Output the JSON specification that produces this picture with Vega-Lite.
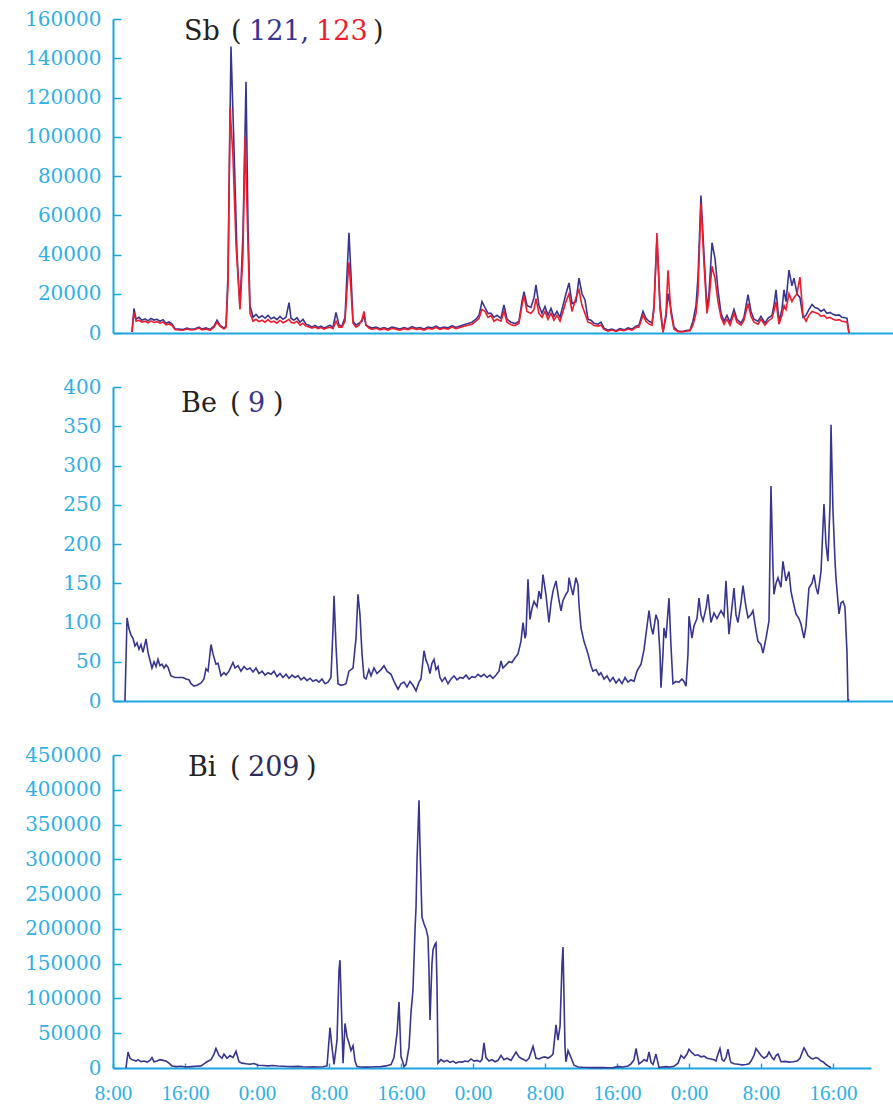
{
"$schema": "https://vega.github.io/schema/vega-lite/v6.json",
"background": "white",
"padding": {"left": 24, "top": 9, "right": 0, "bottom": 0},
"spacing": 34,
"resolve": {"scale": {"x": "independent", "y": "independent"}},
"config": {
  "view": {"stroke": null},
  "axis": {"grid": false, "title": null, "domainColor": "#1ba6e0", "domainWidth": 2, "tickColor": "#1ba6e0", "labelColor": "#2fb0e6"},
  "axisY": {"tickSize": -8, "tickWidth": 1.5, "labelPadding": 20, "labelFont": "DejaVu Serif", "labelFontSize": 20, "labelOverlap": false}
},
"datasets": {
"sb121": [{"t":2.11,"v":500},{"t":2.33,"v":12500},{"t":2.56,"v":7000},{"t":2.89,"v":8000},{"t":3.22,"v":6500},{"t":3.56,"v":7200},{"t":3.89,"v":6200},{"t":4.22,"v":7400},{"t":4.56,"v":6600},{"t":4.89,"v":7000},{"t":5.22,"v":6000},{"t":5.56,"v":6800},{"t":5.89,"v":5000},{"t":6.22,"v":5600},{"t":6.56,"v":4500},{"t":6.89,"v":2200},{"t":7.33,"v":2000},{"t":7.78,"v":1800},{"t":8.22,"v":2500},{"t":8.67,"v":1900},{"t":9.11,"v":2200},{"t":9.56,"v":3000},{"t":9.89,"v":2000},{"t":10.33,"v":2600},{"t":10.78,"v":1800},{"t":11.22,"v":3500},{"t":11.56,"v":6500},{"t":11.89,"v":4000},{"t":12.33,"v":2500},{"t":12.56,"v":3500},{"t":12.78,"v":30000},{"t":13.11,"v":146000},{"t":13.44,"v":95000},{"t":13.78,"v":40000},{"t":14.11,"v":13000},{"t":14.44,"v":50000},{"t":14.78,"v":128000},{"t":15.0,"v":55000},{"t":15.22,"v":14000},{"t":15.56,"v":8000},{"t":15.89,"v":9500},{"t":16.22,"v":7800},{"t":16.56,"v":8800},{"t":16.89,"v":7500},{"t":17.22,"v":9000},{"t":17.56,"v":7200},{"t":17.89,"v":8000},{"t":18.22,"v":6800},{"t":18.56,"v":8500},{"t":18.89,"v":7000},{"t":19.22,"v":8000},{"t":19.56,"v":15500},{"t":19.78,"v":7500},{"t":20.11,"v":6500},{"t":20.44,"v":7800},{"t":20.78,"v":5500},{"t":21.11,"v":7000},{"t":21.44,"v":4500},{"t":21.78,"v":4000},{"t":22.11,"v":3000},{"t":22.44,"v":3800},{"t":22.78,"v":2800},{"t":23.11,"v":3500},{"t":23.44,"v":2600},{"t":23.78,"v":3200},{"t":24.11,"v":4000},{"t":24.44,"v":2800},{"t":24.78,"v":10500},{"t":25.11,"v":4000},{"t":25.44,"v":3500},{"t":25.78,"v":8000},{"t":26.0,"v":30000},{"t":26.22,"v":51000},{"t":26.44,"v":30000},{"t":26.67,"v":6000},{"t":27.0,"v":4000},{"t":27.33,"v":5000},{"t":27.67,"v":6000},{"t":27.89,"v":9000},{"t":28.11,"v":4000},{"t":28.44,"v":3200},{"t":28.78,"v":2500},{"t":29.22,"v":3000},{"t":29.67,"v":2200},{"t":30.11,"v":2800},{"t":30.56,"v":2000},{"t":31.0,"v":3000},{"t":31.44,"v":2500},{"t":31.89,"v":2000},{"t":32.33,"v":2800},{"t":32.78,"v":2200},{"t":33.22,"v":3300},{"t":33.67,"v":2400},{"t":34.11,"v":2800},{"t":34.56,"v":2000},{"t":35.0,"v":3000},{"t":35.44,"v":2600},{"t":35.89,"v":3500},{"t":36.33,"v":2400},{"t":36.78,"v":3000},{"t":37.22,"v":2600},{"t":37.67,"v":3800},{"t":38.11,"v":2800},{"t":38.56,"v":3500},{"t":39.0,"v":4200},{"t":39.44,"v":4800},{"t":39.89,"v":5500},{"t":40.33,"v":7000},{"t":40.67,"v":9000},{"t":41.0,"v":16000},{"t":41.33,"v":13000},{"t":41.67,"v":10000},{"t":42.0,"v":10000},{"t":42.33,"v":8000},{"t":42.67,"v":9000},{"t":43.11,"v":7500},{"t":43.44,"v":14300},{"t":43.78,"v":7000},{"t":44.22,"v":5500},{"t":44.67,"v":4800},{"t":45.11,"v":6000},{"t":45.44,"v":16000},{"t":45.67,"v":21000},{"t":46.0,"v":14000},{"t":46.44,"v":13000},{"t":46.78,"v":18000},{"t":47.0,"v":24500},{"t":47.33,"v":14000},{"t":47.67,"v":10000},{"t":48.0,"v":13500},{"t":48.33,"v":9000},{"t":48.67,"v":12500},{"t":49.0,"v":8500},{"t":49.33,"v":11000},{"t":49.67,"v":8000},{"t":50.0,"v":14000},{"t":50.33,"v":20000},{"t":50.67,"v":25500},{"t":51.0,"v":15000},{"t":51.44,"v":16000},{"t":51.78,"v":28000},{"t":52.11,"v":20000},{"t":52.44,"v":17000},{"t":52.78,"v":7000},{"t":53.11,"v":6500},{"t":53.44,"v":5000},{"t":53.89,"v":4500},{"t":54.22,"v":5500},{"t":54.56,"v":2500},{"t":55.0,"v":1500},{"t":55.44,"v":2000},{"t":55.89,"v":1200},{"t":56.33,"v":2200},{"t":56.78,"v":1600},{"t":57.22,"v":2600},{"t":57.67,"v":2000},{"t":58.11,"v":3500},{"t":58.44,"v":4000},{"t":58.89,"v":11000},{"t":59.22,"v":7500},{"t":59.56,"v":6000},{"t":59.89,"v":5000},{"t":60.11,"v":14000},{"t":60.44,"v":48000},{"t":60.78,"v":15000},{"t":61.11,"v":500},{"t":61.44,"v":8000},{"t":61.67,"v":20000},{"t":62.0,"v":12000},{"t":62.33,"v":3000},{"t":62.78,"v":1000},{"t":63.22,"v":800},{"t":63.67,"v":1200},{"t":64.11,"v":1500},{"t":64.44,"v":6000},{"t":64.78,"v":14000},{"t":65.0,"v":28500},{"t":65.33,"v":70000},{"t":65.67,"v":40000},{"t":66.0,"v":12000},{"t":66.22,"v":20000},{"t":66.56,"v":46000},{"t":66.89,"v":38000},{"t":67.22,"v":22000},{"t":67.56,"v":10000},{"t":67.89,"v":6000},{"t":68.22,"v":9000},{"t":68.56,"v":5500},{"t":69.0,"v":12000},{"t":69.33,"v":7000},{"t":69.78,"v":5000},{"t":70.11,"v":8000},{"t":70.56,"v":19500},{"t":70.89,"v":11000},{"t":71.22,"v":7000},{"t":71.67,"v":6000},{"t":72.0,"v":8500},{"t":72.44,"v":5000},{"t":72.78,"v":7500},{"t":73.22,"v":9000},{"t":73.44,"v":14000},{"t":73.67,"v":22000},{"t":74.0,"v":6000},{"t":74.33,"v":12000},{"t":74.56,"v":22000},{"t":74.78,"v":16000},{"t":75.11,"v":32000},{"t":75.44,"v":24000},{"t":75.67,"v":28000},{"t":76.0,"v":20000},{"t":76.33,"v":18000},{"t":76.67,"v":8000},{"t":77.0,"v":9000},{"t":77.33,"v":12000},{"t":77.67,"v":14500},{"t":78.0,"v":13000},{"t":78.33,"v":12500},{"t":78.67,"v":11000},{"t":79.0,"v":12000},{"t":79.33,"v":10000},{"t":79.67,"v":10500},{"t":80.0,"v":9500},{"t":80.33,"v":9000},{"t":80.67,"v":9200},{"t":81.0,"v":8000},{"t":81.33,"v":7800},{"t":81.56,"v":7500},{"t":81.78,"v":0}],
"sb123": [{"t":2.11,"v":500},{"t":2.33,"v":10500},{"t":2.56,"v":6000},{"t":2.89,"v":6500},{"t":3.22,"v":5500},{"t":3.56,"v":6000},{"t":3.89,"v":5200},{"t":4.22,"v":6200},{"t":4.56,"v":5400},{"t":4.89,"v":5800},{"t":5.22,"v":5000},{"t":5.56,"v":5600},{"t":5.89,"v":4200},{"t":6.22,"v":4600},{"t":6.56,"v":3800},{"t":6.89,"v":1800},{"t":7.33,"v":1500},{"t":7.78,"v":1400},{"t":8.22,"v":2000},{"t":8.67,"v":1500},{"t":9.11,"v":1800},{"t":9.56,"v":2500},{"t":9.89,"v":1600},{"t":10.33,"v":2000},{"t":10.78,"v":1400},{"t":11.22,"v":3000},{"t":11.56,"v":5500},{"t":11.89,"v":3500},{"t":12.33,"v":2000},{"t":12.56,"v":3000},{"t":12.78,"v":25000},{"t":13.0,"v":115000},{"t":13.33,"v":90000},{"t":13.67,"v":45000},{"t":14.11,"v":12000},{"t":14.44,"v":40000},{"t":14.67,"v":100000},{"t":15.0,"v":45000},{"t":15.22,"v":10000},{"t":15.56,"v":6000},{"t":15.89,"v":7000},{"t":16.22,"v":5800},{"t":16.56,"v":6500},{"t":16.89,"v":5500},{"t":17.22,"v":6800},{"t":17.56,"v":5500},{"t":17.89,"v":6000},{"t":18.22,"v":5000},{"t":18.56,"v":6500},{"t":18.89,"v":5200},{"t":19.22,"v":6000},{"t":19.56,"v":7000},{"t":19.78,"v":5500},{"t":20.11,"v":5000},{"t":20.44,"v":6000},{"t":20.78,"v":4000},{"t":21.11,"v":5000},{"t":21.44,"v":3500},{"t":21.78,"v":3000},{"t":22.11,"v":2500},{"t":22.44,"v":3000},{"t":22.78,"v":2200},{"t":23.11,"v":2800},{"t":23.44,"v":2000},{"t":23.78,"v":2600},{"t":24.11,"v":3000},{"t":24.44,"v":2200},{"t":24.78,"v":6000},{"t":25.11,"v":3000},{"t":25.44,"v":3000},{"t":25.78,"v":6000},{"t":26.0,"v":22000},{"t":26.22,"v":36000},{"t":26.44,"v":22000},{"t":26.67,"v":5000},{"t":27.0,"v":3000},{"t":27.33,"v":4000},{"t":27.67,"v":7000},{"t":27.89,"v":11000},{"t":28.11,"v":4000},{"t":28.44,"v":2500},{"t":28.78,"v":1800},{"t":29.22,"v":2400},{"t":29.67,"v":1600},{"t":30.11,"v":2200},{"t":30.56,"v":1500},{"t":31.0,"v":2400},{"t":31.44,"v":1900},{"t":31.89,"v":1500},{"t":32.33,"v":2200},{"t":32.78,"v":1700},{"t":33.22,"v":2600},{"t":33.67,"v":1800},{"t":34.11,"v":2200},{"t":34.56,"v":1500},{"t":35.0,"v":2400},{"t":35.44,"v":2000},{"t":35.89,"v":2800},{"t":36.33,"v":1800},{"t":36.78,"v":2400},{"t":37.22,"v":2000},{"t":37.67,"v":3000},{"t":38.11,"v":2200},{"t":38.56,"v":2800},{"t":39.0,"v":3400},{"t":39.44,"v":4000},{"t":39.89,"v":4500},{"t":40.33,"v":6000},{"t":40.67,"v":7500},{"t":41.0,"v":12000},{"t":41.33,"v":11000},{"t":41.67,"v":8000},{"t":42.0,"v":9000},{"t":42.33,"v":6000},{"t":42.67,"v":7000},{"t":43.11,"v":6000},{"t":43.44,"v":11000},{"t":43.78,"v":5500},{"t":44.22,"v":4200},{"t":44.67,"v":3800},{"t":45.11,"v":5000},{"t":45.44,"v":14000},{"t":45.67,"v":19000},{"t":46.0,"v":11000},{"t":46.44,"v":10000},{"t":46.78,"v":12000},{"t":47.0,"v":17500},{"t":47.33,"v":10000},{"t":47.67,"v":8000},{"t":48.0,"v":11000},{"t":48.33,"v":7000},{"t":48.67,"v":10000},{"t":49.0,"v":6500},{"t":49.33,"v":9000},{"t":49.67,"v":6000},{"t":50.0,"v":11000},{"t":50.33,"v":16000},{"t":50.67,"v":20000},{"t":51.0,"v":11000},{"t":51.44,"v":18000},{"t":51.78,"v":22000},{"t":52.11,"v":14000},{"t":52.44,"v":10000},{"t":52.78,"v":5500},{"t":53.11,"v":5000},{"t":53.44,"v":3800},{"t":53.89,"v":3500},{"t":54.22,"v":4000},{"t":54.56,"v":1800},{"t":55.0,"v":1000},{"t":55.44,"v":1500},{"t":55.89,"v":800},{"t":56.33,"v":1600},{"t":56.78,"v":1200},{"t":57.22,"v":2000},{"t":57.67,"v":1500},{"t":58.11,"v":2800},{"t":58.44,"v":3000},{"t":58.89,"v":9000},{"t":59.22,"v":6000},{"t":59.56,"v":4500},{"t":59.89,"v":4000},{"t":60.11,"v":12000},{"t":60.44,"v":51000},{"t":60.78,"v":12000},{"t":61.11,"v":300},{"t":61.44,"v":10000},{"t":61.67,"v":32000},{"t":62.0,"v":10000},{"t":62.33,"v":2000},{"t":62.78,"v":700},{"t":63.22,"v":600},{"t":63.67,"v":900},{"t":64.11,"v":1200},{"t":64.44,"v":4000},{"t":64.78,"v":10000},{"t":65.0,"v":20000},{"t":65.33,"v":66000},{"t":65.67,"v":35000},{"t":66.0,"v":10000},{"t":66.22,"v":16000},{"t":66.56,"v":34000},{"t":66.89,"v":28000},{"t":67.22,"v":16000},{"t":67.56,"v":8000},{"t":67.89,"v":4500},{"t":68.22,"v":7000},{"t":68.56,"v":4000},{"t":69.0,"v":10000},{"t":69.33,"v":5500},{"t":69.78,"v":4000},{"t":70.11,"v":6500},{"t":70.56,"v":15000},{"t":70.89,"v":8500},{"t":71.22,"v":5500},{"t":71.67,"v":4500},{"t":72.0,"v":7000},{"t":72.44,"v":4000},{"t":72.78,"v":6000},{"t":73.22,"v":7500},{"t":73.44,"v":11000},{"t":73.67,"v":16000},{"t":74.0,"v":4500},{"t":74.33,"v":9000},{"t":74.56,"v":14000},{"t":74.78,"v":12000},{"t":75.11,"v":20000},{"t":75.44,"v":16000},{"t":75.67,"v":18000},{"t":76.0,"v":20000},{"t":76.33,"v":28500},{"t":76.67,"v":9000},{"t":77.0,"v":6000},{"t":77.33,"v":9000},{"t":77.67,"v":11000},{"t":78.0,"v":10500},{"t":78.33,"v":10000},{"t":78.67,"v":8500},{"t":79.0,"v":9000},{"t":79.33,"v":7500},{"t":79.67,"v":8000},{"t":80.0,"v":7000},{"t":80.33,"v":6500},{"t":80.67,"v":6800},{"t":81.0,"v":6000},{"t":81.33,"v":5800},{"t":81.56,"v":5500},{"t":81.78,"v":0}],
"be": [{"t":1.33,"v":0},{"t":1.56,"v":106},{"t":1.78,"v":92},{"t":2.0,"v":84},{"t":2.22,"v":80},{"t":2.44,"v":70},{"t":2.67,"v":74},{"t":2.89,"v":66},{"t":3.11,"v":72},{"t":3.33,"v":62},{"t":3.67,"v":79},{"t":3.89,"v":62},{"t":4.11,"v":52},{"t":4.33,"v":42},{"t":4.56,"v":50},{"t":4.78,"v":44},{"t":5.0,"v":53},{"t":5.22,"v":45},{"t":5.44,"v":47},{"t":5.67,"v":42},{"t":5.89,"v":46},{"t":6.11,"v":43},{"t":6.44,"v":32},{"t":6.89,"v":30},{"t":7.33,"v":30},{"t":7.78,"v":30},{"t":8.11,"v":28},{"t":8.44,"v":27},{"t":8.67,"v":22},{"t":9.0,"v":19},{"t":9.33,"v":20},{"t":9.78,"v":23},{"t":10.11,"v":28},{"t":10.33,"v":41},{"t":10.56,"v":38},{"t":10.89,"v":72},{"t":11.11,"v":60},{"t":11.44,"v":47},{"t":11.67,"v":48},{"t":12.0,"v":32},{"t":12.33,"v":36},{"t":12.56,"v":33},{"t":12.89,"v":38},{"t":13.33,"v":49},{"t":13.56,"v":42},{"t":13.89,"v":45},{"t":14.22,"v":38},{"t":14.56,"v":44},{"t":14.89,"v":40},{"t":15.22,"v":42},{"t":15.56,"v":37},{"t":15.89,"v":42},{"t":16.22,"v":35},{"t":16.56,"v":38},{"t":16.89,"v":33},{"t":17.22,"v":36},{"t":17.56,"v":34},{"t":17.89,"v":38},{"t":18.22,"v":31},{"t":18.56,"v":35},{"t":18.89,"v":30},{"t":19.22,"v":34},{"t":19.56,"v":29},{"t":19.89,"v":33},{"t":20.22,"v":30},{"t":20.56,"v":32},{"t":20.89,"v":27},{"t":21.22,"v":30},{"t":21.56,"v":26},{"t":21.89,"v":29},{"t":22.22,"v":25},{"t":22.56,"v":27},{"t":22.89,"v":24},{"t":23.22,"v":28},{"t":23.56,"v":22},{"t":23.89,"v":24},{"t":24.22,"v":30},{"t":24.44,"v":90},{"t":24.56,"v":134},{"t":24.78,"v":70},{"t":25.0,"v":22},{"t":25.33,"v":20},{"t":25.67,"v":21},{"t":25.89,"v":22},{"t":26.22,"v":38},{"t":26.67,"v":42},{"t":27.0,"v":80},{"t":27.22,"v":136},{"t":27.44,"v":110},{"t":27.67,"v":60},{"t":27.89,"v":30},{"t":28.11,"v":28},{"t":28.44,"v":40},{"t":28.67,"v":32},{"t":29.0,"v":42},{"t":29.33,"v":35},{"t":29.78,"v":40},{"t":30.11,"v":45},{"t":30.44,"v":38},{"t":30.89,"v":34},{"t":31.22,"v":25},{"t":31.67,"v":15},{"t":32.0,"v":22},{"t":32.33,"v":24},{"t":32.67,"v":18},{"t":33.0,"v":25},{"t":33.33,"v":20},{"t":33.67,"v":13},{"t":34.0,"v":24},{"t":34.22,"v":28},{"t":34.56,"v":64},{"t":34.78,"v":52},{"t":35.0,"v":46},{"t":35.22,"v":35},{"t":35.44,"v":48},{"t":35.67,"v":53},{"t":35.89,"v":40},{"t":36.11,"v":44},{"t":36.33,"v":30},{"t":36.56,"v":25},{"t":36.89,"v":30},{"t":37.22,"v":22},{"t":37.56,"v":28},{"t":37.89,"v":32},{"t":38.22,"v":27},{"t":38.56,"v":30},{"t":38.89,"v":29},{"t":39.22,"v":33},{"t":39.56,"v":28},{"t":39.89,"v":31},{"t":40.22,"v":30},{"t":40.56,"v":34},{"t":40.89,"v":31},{"t":41.22,"v":34},{"t":41.56,"v":30},{"t":41.89,"v":33},{"t":42.22,"v":29},{"t":42.56,"v":33},{"t":42.89,"v":38},{"t":43.11,"v":51},{"t":43.33,"v":42},{"t":43.67,"v":46},{"t":44.0,"v":50},{"t":44.33,"v":49},{"t":44.67,"v":55},{"t":45.0,"v":60},{"t":45.33,"v":76},{"t":45.56,"v":100},{"t":45.78,"v":80},{"t":45.89,"v":85},{"t":46.11,"v":155},{"t":46.33,"v":104},{"t":46.56,"v":118},{"t":46.78,"v":127},{"t":47.11,"v":120},{"t":47.33,"v":140},{"t":47.56,"v":130},{"t":47.78,"v":161},{"t":48.11,"v":135},{"t":48.44,"v":100},{"t":48.67,"v":125},{"t":48.89,"v":140},{"t":49.22,"v":153},{"t":49.56,"v":128},{"t":49.78,"v":115},{"t":50.0,"v":128},{"t":50.33,"v":136},{"t":50.56,"v":140},{"t":50.67,"v":157},{"t":50.89,"v":145},{"t":51.11,"v":135},{"t":51.33,"v":150},{"t":51.44,"v":157},{"t":51.67,"v":148},{"t":51.78,"v":123},{"t":52.0,"v":93},{"t":52.33,"v":76},{"t":52.56,"v":68},{"t":52.78,"v":60},{"t":53.11,"v":45},{"t":53.33,"v":38},{"t":53.67,"v":40},{"t":54.0,"v":33},{"t":54.22,"v":36},{"t":54.56,"v":28},{"t":54.89,"v":32},{"t":55.22,"v":25},{"t":55.56,"v":30},{"t":55.89,"v":23},{"t":56.22,"v":28},{"t":56.56,"v":22},{"t":56.89,"v":30},{"t":57.22,"v":24},{"t":57.56,"v":27},{"t":57.89,"v":25},{"t":58.22,"v":38},{"t":58.67,"v":47},{"t":59.0,"v":65},{"t":59.22,"v":85},{"t":59.56,"v":115},{"t":59.78,"v":95},{"t":60.0,"v":85},{"t":60.33,"v":110},{"t":60.56,"v":102},{"t":60.78,"v":60},{"t":60.89,"v":17},{"t":61.11,"v":60},{"t":61.22,"v":93},{"t":61.44,"v":80},{"t":61.78,"v":131},{"t":62.0,"v":70},{"t":62.22,"v":22},{"t":62.56,"v":25},{"t":62.89,"v":24},{"t":63.22,"v":28},{"t":63.44,"v":25},{"t":63.67,"v":19},{"t":63.89,"v":60},{"t":64.0,"v":108},{"t":64.33,"v":80},{"t":64.56,"v":96},{"t":64.89,"v":105},{"t":65.11,"v":131},{"t":65.33,"v":110},{"t":65.56,"v":102},{"t":65.89,"v":118},{"t":66.11,"v":136},{"t":66.44,"v":100},{"t":66.78,"v":112},{"t":67.11,"v":105},{"t":67.56,"v":115},{"t":67.89,"v":108},{"t":68.11,"v":153},{"t":68.44,"v":85},{"t":68.78,"v":120},{"t":69.0,"v":144},{"t":69.22,"v":110},{"t":69.44,"v":100},{"t":69.78,"v":125},{"t":70.0,"v":147},{"t":70.33,"v":120},{"t":70.56,"v":106},{"t":70.89,"v":110},{"t":71.11,"v":115},{"t":71.44,"v":90},{"t":71.67,"v":76},{"t":72.0,"v":72},{"t":72.22,"v":61},{"t":72.56,"v":80},{"t":72.89,"v":102},{"t":73.11,"v":274},{"t":73.33,"v":170},{"t":73.44,"v":136},{"t":73.67,"v":150},{"t":73.89,"v":157},{"t":74.22,"v":145},{"t":74.44,"v":178},{"t":74.78,"v":153},{"t":75.11,"v":165},{"t":75.33,"v":140},{"t":75.56,"v":127},{"t":75.89,"v":111},{"t":76.22,"v":105},{"t":76.44,"v":98},{"t":76.78,"v":80},{"t":77.0,"v":95},{"t":77.33,"v":144},{"t":77.67,"v":150},{"t":77.89,"v":161},{"t":78.11,"v":145},{"t":78.33,"v":136},{"t":78.67,"v":165},{"t":79.0,"v":251},{"t":79.22,"v":200},{"t":79.44,"v":178},{"t":79.67,"v":250},{"t":79.78,"v":352},{"t":80.0,"v":242},{"t":80.22,"v":180},{"t":80.33,"v":157},{"t":80.67,"v":111},{"t":80.89,"v":125},{"t":81.11,"v":127},{"t":81.33,"v":120},{"t":81.56,"v":60},{"t":81.67,"v":0},{"t":81.78,"v":3}],
"bi": [{"t":1.44,"v":0},{"t":1.67,"v":23000},{"t":1.89,"v":14000},{"t":2.11,"v":12000},{"t":2.33,"v":11000},{"t":2.56,"v":10000},{"t":2.78,"v":12000},{"t":3.11,"v":9000},{"t":3.44,"v":10000},{"t":3.78,"v":8500},{"t":4.11,"v":11000},{"t":4.33,"v":15000},{"t":4.56,"v":9000},{"t":4.89,"v":10000},{"t":5.22,"v":12000},{"t":5.56,"v":11000},{"t":5.89,"v":10000},{"t":6.22,"v":7000},{"t":6.56,"v":3000},{"t":7.0,"v":2000},{"t":7.56,"v":2500},{"t":8.11,"v":1500},{"t":8.67,"v":2000},{"t":9.22,"v":2500},{"t":9.78,"v":3000},{"t":10.11,"v":6000},{"t":10.44,"v":9000},{"t":10.89,"v":12000},{"t":11.22,"v":20000},{"t":11.44,"v":28000},{"t":11.78,"v":18000},{"t":12.11,"v":14000},{"t":12.33,"v":20000},{"t":12.67,"v":14000},{"t":13.0,"v":18000},{"t":13.33,"v":15000},{"t":13.67,"v":24000},{"t":14.0,"v":9000},{"t":14.33,"v":7000},{"t":14.78,"v":6000},{"t":15.22,"v":5500},{"t":15.67,"v":6500},{"t":16.11,"v":4000},{"t":16.67,"v":3500},{"t":17.22,"v":3000},{"t":17.78,"v":3500},{"t":18.33,"v":2800},{"t":18.89,"v":2500},{"t":19.44,"v":2200},{"t":20.0,"v":2000},{"t":20.56,"v":2300},{"t":21.11,"v":1800},{"t":21.67,"v":1500},{"t":22.22,"v":1800},{"t":22.78,"v":1500},{"t":23.33,"v":1700},{"t":23.78,"v":3000},{"t":24.11,"v":58000},{"t":24.33,"v":30000},{"t":24.56,"v":5000},{"t":24.89,"v":40000},{"t":25.11,"v":140000},{"t":25.22,"v":155000},{"t":25.44,"v":60000},{"t":25.56,"v":7000},{"t":25.78,"v":64000},{"t":26.0,"v":45000},{"t":26.22,"v":36000},{"t":26.44,"v":25000},{"t":26.67,"v":32000},{"t":26.89,"v":10000},{"t":27.11,"v":2000},{"t":27.56,"v":1500},{"t":28.11,"v":1200},{"t":28.67,"v":1500},{"t":29.22,"v":1800},{"t":29.78,"v":2000},{"t":30.33,"v":3000},{"t":30.89,"v":5000},{"t":31.22,"v":15000},{"t":31.56,"v":50000},{"t":31.78,"v":95000},{"t":32.0,"v":16000},{"t":32.22,"v":8000},{"t":32.33,"v":2000},{"t":32.56,"v":5000},{"t":32.89,"v":30000},{"t":33.11,"v":80000},{"t":33.33,"v":112000},{"t":33.56,"v":200000},{"t":33.67,"v":231000},{"t":33.78,"v":300000},{"t":34.0,"v":385000},{"t":34.11,"v":320000},{"t":34.33,"v":217000},{"t":34.56,"v":207000},{"t":34.78,"v":200000},{"t":35.0,"v":188000},{"t":35.11,"v":140000},{"t":35.22,"v":69000},{"t":35.44,"v":150000},{"t":35.56,"v":170000},{"t":35.78,"v":178000},{"t":35.89,"v":180000},{"t":36.0,"v":120000},{"t":36.11,"v":7000},{"t":36.44,"v":12000},{"t":36.78,"v":9000},{"t":37.11,"v":11000},{"t":37.44,"v":8000},{"t":37.78,"v":10000},{"t":38.11,"v":7000},{"t":38.44,"v":9000},{"t":38.78,"v":8500},{"t":39.11,"v":10000},{"t":39.44,"v":9000},{"t":39.78,"v":13000},{"t":40.11,"v":10000},{"t":40.44,"v":11000},{"t":40.78,"v":9000},{"t":41.0,"v":12000},{"t":41.22,"v":36000},{"t":41.44,"v":15000},{"t":41.78,"v":10000},{"t":42.11,"v":12000},{"t":42.44,"v":9000},{"t":42.78,"v":11000},{"t":43.11,"v":18000},{"t":43.44,"v":12000},{"t":43.78,"v":14000},{"t":44.22,"v":11000},{"t":44.78,"v":23000},{"t":45.11,"v":16000},{"t":45.33,"v":14000},{"t":45.67,"v":12000},{"t":45.89,"v":10000},{"t":46.22,"v":14000},{"t":46.67,"v":31000},{"t":47.0,"v":14000},{"t":47.33,"v":13000},{"t":47.67,"v":15000},{"t":48.0,"v":16000},{"t":48.33,"v":14000},{"t":48.67,"v":17000},{"t":48.89,"v":20000},{"t":49.22,"v":62000},{"t":49.44,"v":40000},{"t":49.67,"v":60000},{"t":49.89,"v":150000},{"t":50.0,"v":174000},{"t":50.22,"v":30000},{"t":50.33,"v":9000},{"t":50.56,"v":25000},{"t":50.89,"v":15000},{"t":51.22,"v":4000},{"t":51.67,"v":1500},{"t":52.22,"v":1000},{"t":52.78,"v":800},{"t":53.33,"v":600},{"t":53.89,"v":500},{"t":54.44,"v":700},{"t":55.0,"v":400},{"t":55.56,"v":600},{"t":56.11,"v":2000},{"t":56.67,"v":1500},{"t":57.22,"v":3000},{"t":57.56,"v":6000},{"t":57.89,"v":12000},{"t":58.11,"v":28000},{"t":58.44,"v":6000},{"t":58.78,"v":9000},{"t":59.0,"v":12000},{"t":59.33,"v":10000},{"t":59.56,"v":23000},{"t":59.78,"v":8000},{"t":60.0,"v":5000},{"t":60.33,"v":20000},{"t":60.67,"v":500},{"t":61.0,"v":1500},{"t":61.44,"v":2000},{"t":61.89,"v":1500},{"t":62.33,"v":2500},{"t":62.78,"v":7000},{"t":63.11,"v":18000},{"t":63.44,"v":14000},{"t":63.78,"v":20000},{"t":64.0,"v":27000},{"t":64.33,"v":22000},{"t":64.67,"v":18000},{"t":65.0,"v":19000},{"t":65.33,"v":16000},{"t":65.67,"v":17000},{"t":66.0,"v":14000},{"t":66.44,"v":13000},{"t":66.78,"v":12000},{"t":67.0,"v":10000},{"t":67.22,"v":20000},{"t":67.44,"v":28000},{"t":67.67,"v":12000},{"t":67.89,"v":10000},{"t":68.11,"v":15000},{"t":68.33,"v":27000},{"t":68.56,"v":12000},{"t":68.67,"v":8000},{"t":69.0,"v":6000},{"t":69.44,"v":5500},{"t":69.89,"v":4500},{"t":70.33,"v":5000},{"t":70.67,"v":6000},{"t":70.89,"v":10000},{"t":71.22,"v":18000},{"t":71.44,"v":28000},{"t":71.78,"v":22000},{"t":72.0,"v":18000},{"t":72.33,"v":14000},{"t":72.67,"v":17000},{"t":72.89,"v":23000},{"t":73.22,"v":15000},{"t":73.44,"v":12000},{"t":73.67,"v":18000},{"t":73.89,"v":20000},{"t":74.22,"v":9000},{"t":74.67,"v":9500},{"t":75.11,"v":8500},{"t":75.56,"v":9000},{"t":76.0,"v":10000},{"t":76.33,"v":14000},{"t":76.56,"v":22000},{"t":76.78,"v":29000},{"t":77.0,"v":24000},{"t":77.22,"v":18000},{"t":77.56,"v":14000},{"t":77.78,"v":13000},{"t":78.11,"v":15000},{"t":78.33,"v":14000},{"t":78.67,"v":10000},{"t":78.89,"v":9000},{"t":79.22,"v":5000},{"t":79.44,"v":3000},{"t":79.78,"v":500}]
},
"vconcat": [
{
  "width": 781, "height": 314,
  "layer": [
    {"data": {"name": "sb121"}, "mark": {"type": "line", "color": "#38358f", "strokeWidth": 1.6},
     "encoding": {
       "x": {"field": "t", "type": "quantitative", "scale": {"domain": [0, 86.78], "nice": false, "zero": false}, "axis": {"labels": false, "ticks": false}},
       "y": {"field": "v", "type": "quantitative", "scale": {"domain": [0, 160000], "nice": false}, "axis": {"values": [0,20000,40000,60000,80000,100000,120000,140000,160000], "tickCount": 20, "format": "d", "labelOverlap": false}}
     }},
    {"data": {"name": "sb123"}, "mark": {"type": "line", "color": "#ee1c2e", "strokeWidth": 1.6},
     "encoding": {"x": {"field": "t", "type": "quantitative"}, "y": {"field": "v", "type": "quantitative"}}},
    {"data": {"values": [{}]}, "mark": {"type": "text", "text": "Sb", "align": "left", "baseline": "alphabetic", "font": "DejaVu Serif", "fontSize": 27, "color": "#222222"},
     "encoding": {"x": {"datum": 7.89, "type": "quantitative"}, "y": {"datum": 149300, "type": "quantitative"}}},
    {"data": {"values": [{}]}, "mark": {"type": "text", "text": "(", "align": "left", "baseline": "alphabetic", "font": "DejaVu Serif", "fontSize": 27, "color": "#222222"},
     "encoding": {"x": {"datum": 13.11, "type": "quantitative"}, "y": {"datum": 149300, "type": "quantitative"}}},
    {"data": {"values": [{}]}, "mark": {"type": "text", "text": "121,", "align": "left", "baseline": "alphabetic", "font": "DejaVu Serif", "fontSize": 27, "color": "#38358f"},
     "encoding": {"x": {"datum": 15.11, "type": "quantitative"}, "y": {"datum": 149300, "type": "quantitative"}}},
    {"data": {"values": [{}]}, "mark": {"type": "text", "text": "123", "align": "left", "baseline": "alphabetic", "font": "DejaVu Serif", "fontSize": 27, "color": "#ee1c2e"},
     "encoding": {"x": {"datum": 22.56, "type": "quantitative"}, "y": {"datum": 149300, "type": "quantitative"}}},
    {"data": {"values": [{}]}, "mark": {"type": "text", "text": ")", "align": "left", "baseline": "alphabetic", "font": "DejaVu Serif", "fontSize": 27, "color": "#222222"},
     "encoding": {"x": {"datum": 28.89, "type": "quantitative"}, "y": {"datum": 149300, "type": "quantitative"}}}
  ]
},
{
  "width": 781, "height": 314,
  "layer": [
    {"data": {"name": "be"}, "mark": {"type": "line", "color": "#38358f", "strokeWidth": 1.6},
     "encoding": {
       "x": {"field": "t", "type": "quantitative", "scale": {"domain": [0, 86.78], "nice": false, "zero": false}, "axis": {"labels": false, "ticks": false}},
       "y": {"field": "v", "type": "quantitative", "scale": {"domain": [0, 400], "nice": false}, "axis": {"values": [0,50,100,150,200,250,300,350,400], "tickCount": 20, "format": "d", "labelOverlap": false}}
     }},
    {"data": {"values": [{}]}, "mark": {"type": "text", "text": "Be", "align": "left", "baseline": "alphabetic", "font": "DejaVu Serif", "fontSize": 27, "color": "#222222"},
     "encoding": {"x": {"datum": 7.56, "type": "quantitative"}, "y": {"datum": 368.6, "type": "quantitative"}}},
    {"data": {"values": [{}]}, "mark": {"type": "text", "text": "(", "align": "left", "baseline": "alphabetic", "font": "DejaVu Serif", "fontSize": 27, "color": "#222222"},
     "encoding": {"x": {"datum": 13.0, "type": "quantitative"}, "y": {"datum": 368.6, "type": "quantitative"}}},
    {"data": {"values": [{}]}, "mark": {"type": "text", "text": "9", "align": "left", "baseline": "alphabetic", "font": "DejaVu Serif", "fontSize": 27, "color": "#38358f"},
     "encoding": {"x": {"datum": 15.0, "type": "quantitative"}, "y": {"datum": 368.6, "type": "quantitative"}}},
    {"data": {"values": [{}]}, "mark": {"type": "text", "text": ")", "align": "left", "baseline": "alphabetic", "font": "DejaVu Serif", "fontSize": 27, "color": "#222222"},
     "encoding": {"x": {"datum": 17.78, "type": "quantitative"}, "y": {"datum": 368.6, "type": "quantitative"}}}
  ]
},
{
  "width": 758, "height": 313,
  "layer": [
    {"data": {"name": "bi"}, "mark": {"type": "line", "color": "#38358f", "strokeWidth": 1.6},
     "encoding": {
       "x": {"field": "t", "type": "quantitative", "scale": {"domain": [0, 84.22], "nice": false, "zero": false},
             "axis": {"values": [0,8,16,24,32,40,48,56,64,72,80], "tickCount": 30, "labelExpr": "datum.value % 24 === 0 ? '8:00' : (datum.value % 24 === 8 ? '16:00' : '0:00')", "tickSize": -5, "tickWidth": 1.5, "labelPadding": 19, "labelFont": "Liberation Serif", "labelFontSize": 21, "labelFlush": false, "labelOverlap": false}},
       "y": {"field": "v", "type": "quantitative", "scale": {"domain": [0, 450000], "nice": false}, "axis": {"values": [0,50000,100000,150000,200000,250000,300000,350000,400000,450000], "tickCount": 20, "format": "d", "labelOverlap": false}}
     }},
    {"data": {"values": [{}]}, "mark": {"type": "text", "text": "Bi", "align": "left", "baseline": "alphabetic", "font": "DejaVu Serif", "fontSize": 27, "color": "#222222"},
     "encoding": {"x": {"datum": 8.33, "type": "quantitative"}, "y": {"datum": 419800, "type": "quantitative"}}},
    {"data": {"values": [{}]}, "mark": {"type": "text", "text": "(", "align": "left", "baseline": "alphabetic", "font": "DejaVu Serif", "fontSize": 27, "color": "#222222"},
     "encoding": {"x": {"datum": 13.0, "type": "quantitative"}, "y": {"datum": 419800, "type": "quantitative"}}},
    {"data": {"values": [{}]}, "mark": {"type": "text", "text": "209", "align": "left", "baseline": "alphabetic", "font": "DejaVu Serif", "fontSize": 27, "color": "#2e2c5c"},
     "encoding": {"x": {"datum": 15.0, "type": "quantitative"}, "y": {"datum": 419800, "type": "quantitative"}}},
    {"data": {"values": [{}]}, "mark": {"type": "text", "text": ")", "align": "left", "baseline": "alphabetic", "font": "DejaVu Serif", "fontSize": 27, "color": "#222222"},
     "encoding": {"x": {"datum": 21.44, "type": "quantitative"}, "y": {"datum": 419800, "type": "quantitative"}}}
  ]
}
]
}
